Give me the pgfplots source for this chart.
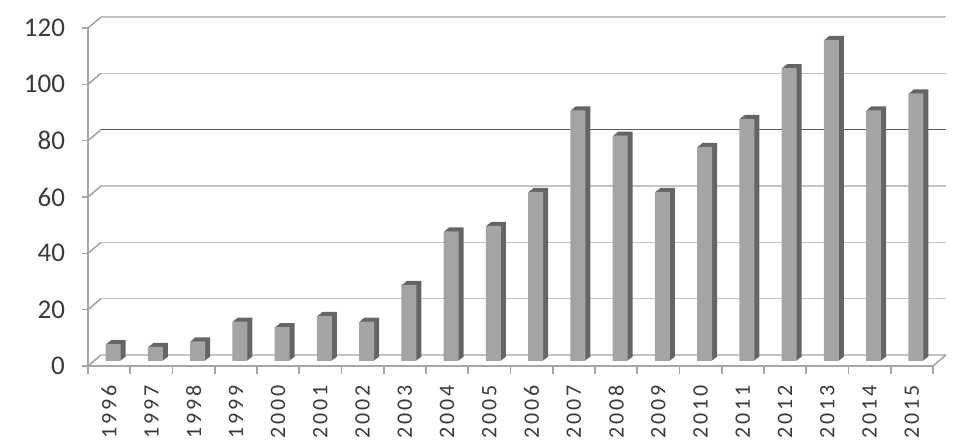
\documentclass[border=0pt]{standalone}
\usepackage{pgfplots}
\pgfplotsset{compat=1.18}
\usepackage{pgfplotstable}
\usepackage{fontspec}
\setmainfont{Carlito}
\newfontfamily\yearfont[LetterSpace=14]{Carlito}

\definecolor{axisgray}{HTML}{A6A6A6}
\definecolor{gridgray}{HTML}{C4C4C4}
\definecolor{griddark}{HTML}{5A5A5A}
\definecolor{barface}{HTML}{A4A4A4}
\definecolor{barside}{HTML}{656565}
\definecolor{labelgray}{HTML}{3A3A3A}

\pgfplotstableread{
year n
1996 6
1997 5
1998 7
1999 14
2000 12
2001 16
2002 14
2003 27
2004 46
2005 48
2006 60
2007 89
2008 80
2009 60
2010 76
2011 86
2012 104
2013 114
2014 89
2015 95
}\datatable

\begin{document}
\begin{tikzpicture}
\useasboundingbox (-44pt,-41pt) rectangle (443.5pt,183pt);

% back wall: gridlines
\begin{axis}[
    at={(6.5pt,5.5pt)}, anchor=south west,
    scale only axis, width=422.5pt, height=169pt,
    xmin=-0.5, xmax=19.5, ymin=0, ymax=120,
    axis line style={draw=none},
    xtick=\empty, ytick={0,20,40,60,100,120}, yticklabels={},
    major tick length=0pt,
    ymajorgrids, grid style={gridgray, line width=0.8pt},
    extra y ticks={80}, extra y tick labels={},
    extra y tick style={grid style={griddark, line width=0.8pt}},
]
\end{axis}

% front: axes and bars
\begin{axis}[
    at={(0pt,0pt)}, anchor=south west,
    scale only axis, width=422.5pt, height=169pt,
    xmin=-0.5, xmax=19.5, ymin=0, ymax=120,
    clip=false,
    axis x line*=bottom, axis y line*=left,
    axis line style={axisgray, line width=0.8pt, -},
    tick align=outside,
    ytick={0,20,...,120},
    ytick style={axisgray, line width=0.8pt},
    major tick length=3pt,
    xtick={0,...,19},
    xticklabels from table={\datatable}{year},
    xtick style={draw=none},
    minor xtick={-0.5,0.5,...,19.5},
    minor x tick style={draw=axisgray, line width=0.8pt},
    minor tick length=4pt,
    /pgf/number format/assume math mode=true,
    yticklabel style={font=\fontsize{13.5}{15}\selectfont, text=labelgray, xshift=-5pt},
    xticklabel shift=3pt,
    xticklabel style={font=\yearfont\fontsize{11}{12}\selectfont, text=labelgray,
                      rotate=90, anchor=east},
]
% side wall edges
\pgfplotsinvokeforeach{0,20,...,120}{
  \draw[axisgray, line width=0.8pt] (axis cs:-0.5,#1) -- ++(6.5pt,5.5pt);
}
\draw[axisgray, line width=0.8pt] (axis cs:19.5,0) -- ++(6.5pt,5.5pt);

% bar depth
\pgfplotsinvokeforeach{1.0,0.8,0.6,0.4,0.2}{
  \addplot[ybar, bar shift=0pt, bar width=7.5pt, fill=barside, draw=none,
           xshift={2pt+2.5pt*#1}, yshift={2.5pt+2pt*#1}]
    table[x expr=\coordindex, y=n] {\datatable};
}
% bar faces
\addplot[ybar, bar shift=0pt, bar width=7.5pt, fill=barface, draw=none,
         xshift=2pt, yshift=2.5pt]
  table[x expr=\coordindex, y=n] {\datatable};
\end{axis}
\end{tikzpicture}
\end{document}
